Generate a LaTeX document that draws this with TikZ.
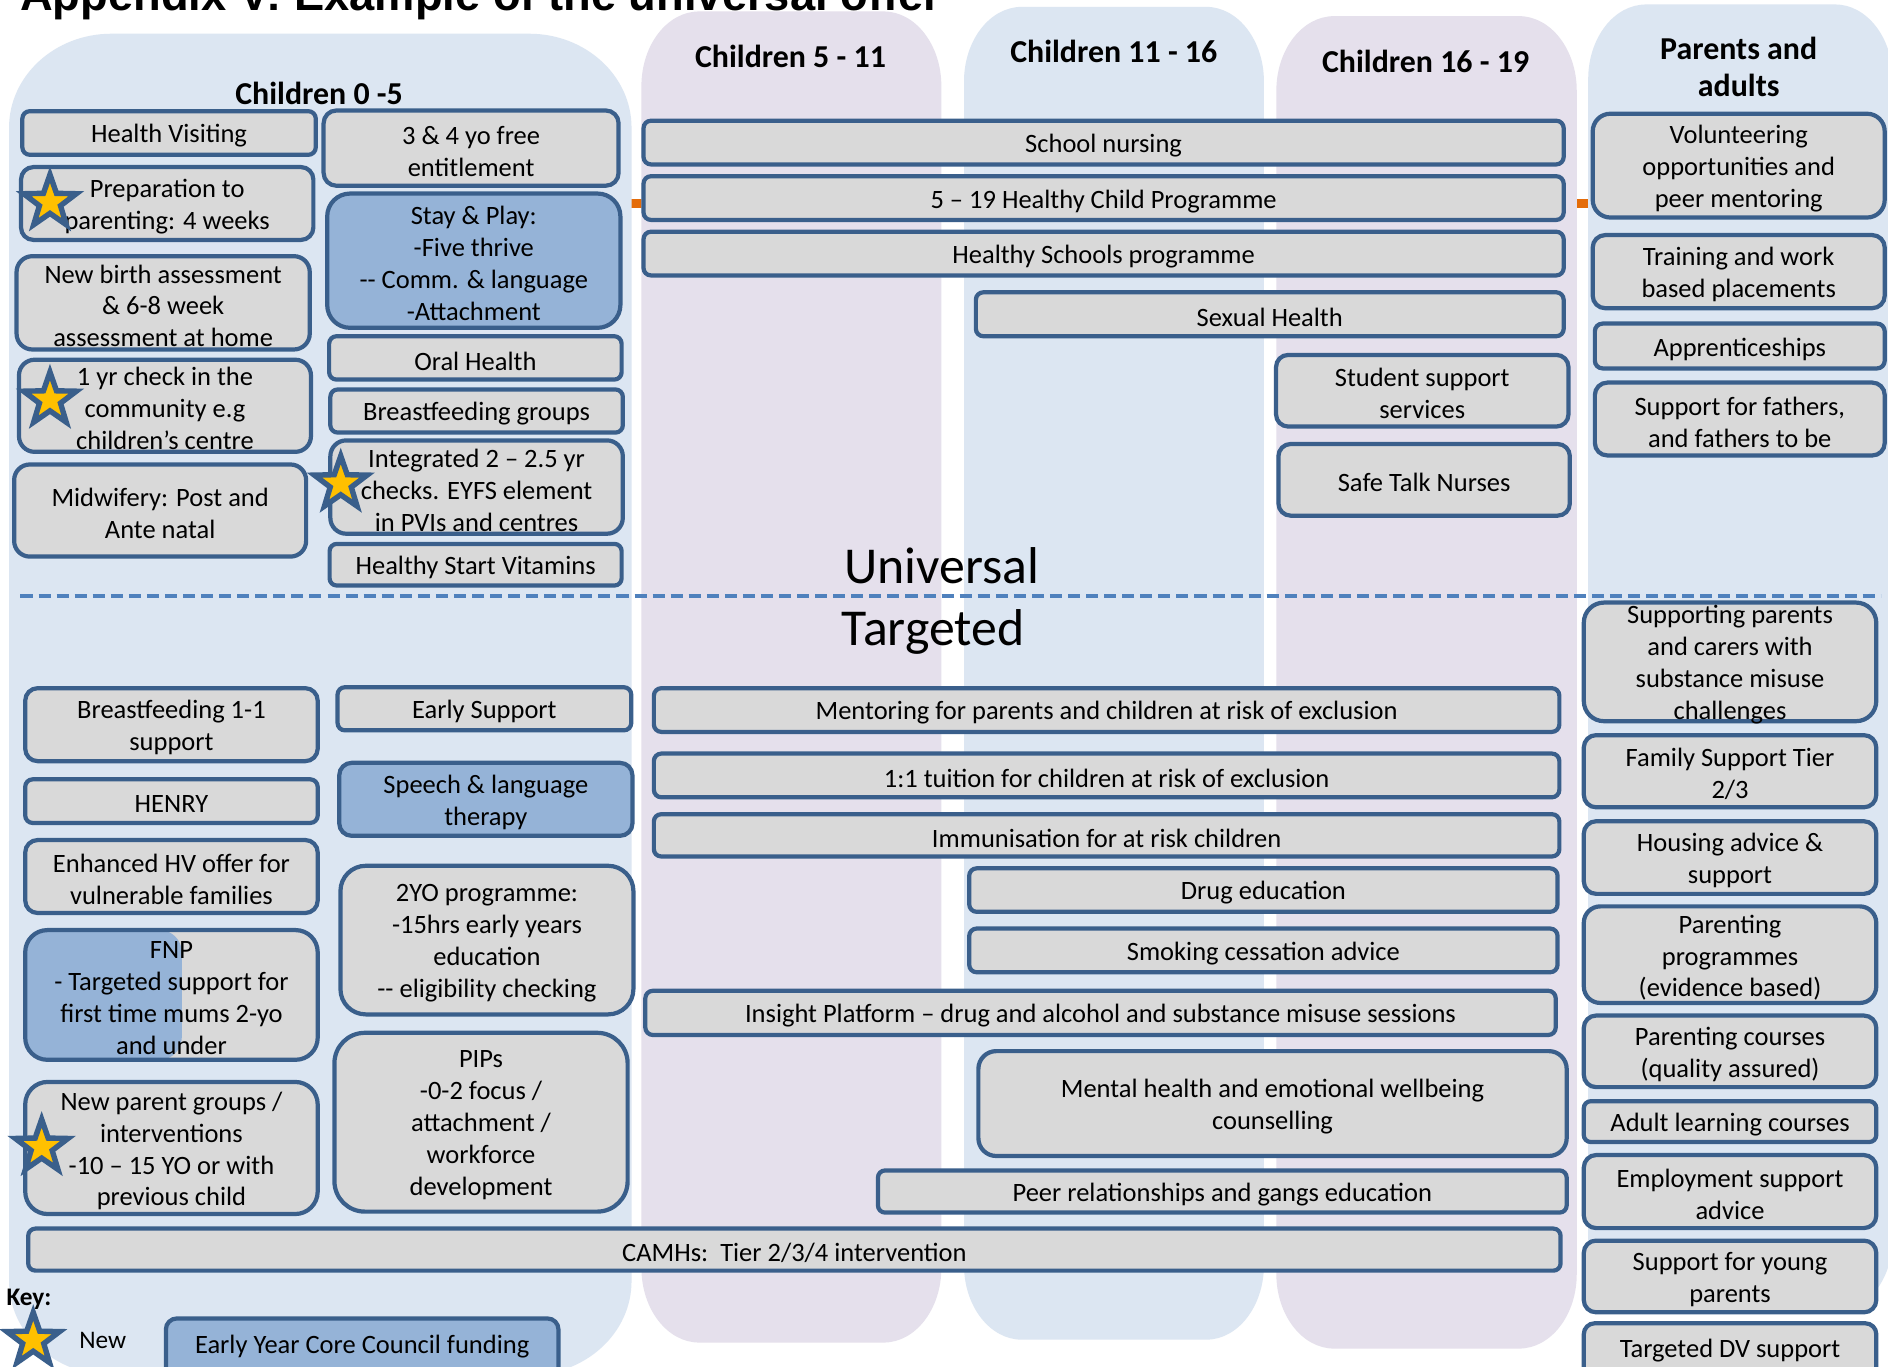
\documentclass[tikz,border=0pt]{standalone}
\usepackage{fontspec}
\setmainfont{Carlito}[Ligatures=TeXOff]
\newfontfamily\titlefont{Liberation Sans}[Ligatures=TeXOff]
\usetikzlibrary{shapes.geometric}
\definecolor{colblue}{HTML}{DCE6F2}
\definecolor{collav}{HTML}{E5E0EC}
\definecolor{boxfill}{HTML}{D9D9D9}
\definecolor{boxline}{HTML}{3A5F8B}
\definecolor{bluefill}{HTML}{95B3D7}
\definecolor{dashblue}{HTML}{4F81BD}
\definecolor{orangeln}{HTML}{E46C0A}
\definecolor{stargold}{HTML}{FFC000}
\tikzset{
  box/.style={draw=boxline, fill=boxfill, line width=3.5pt, inner sep=0pt, outer sep=0pt},
  bluebox/.style={fill=bluefill},
  txt/.style={font=\fontsize{22}{26.5}\selectfont, align=center, inner sep=0pt, yshift=-2.5pt},
  hdr/.style={font=\fontsize{26.5}{31.5}\selectfont\bfseries, align=center, inner sep=0pt, anchor=base},
  newstar/.style={star, star points=5, star point ratio=2.5, minimum size=46pt, inner sep=0pt, draw=boxline, fill=stargold, line width=4.5pt},
}
\newcommand{\bx}[7][]{%
  \pgfmathsetmacro\bxw{(#5)-(#3)-3.5}%
  \pgfmathsetmacro\bxh{(#6)-(#4)-3.5}%
  \pgfmathsetmacro\bxcx{((#3)+(#5))/2}%
  \pgfmathsetmacro\bxcy{((#4)+(#6))/2}%
  \pgfmathsetmacro\bxr{0.17*min(\bxw,\bxh)}%
  \node[box, minimum width=\bxw pt, minimum height=\bxh pt, rounded corners=\bxr pt, #1] (#2) at (\bxcx,\bxcy) {};%
  \node[txt] (#2-t) at (#2.center) {#7};}
\newcommand{\colbg}[7]{%
  \fill[#1] (#2,{#3+#7}) .. controls (#2,{#3+0.448*#7}) and ({#2+0.448*#6},#3) .. ({#2+#6},#3)
   -- ({#4-#6},#3) .. controls ({#4-0.448*#6},#3) and (#4,{#3+0.448*#7}) .. (#4,{#3+#7})
   -- (#4,{#5-#7}) .. controls (#4,{#5-0.448*#7}) and ({#4-0.448*#6},#5) .. ({#4-#6},#5)
   -- ({#2+#6},#5) .. controls ({#2+0.448*#6},#5) and (#2,{#5-0.448*#7}) .. (#2,{#5-#7}) -- cycle;}
\begin{document}
\begin{tikzpicture}[x=1pt,y=-1pt]
\useasboundingbox (0,0) rectangle (1568,1135);
\clip (0,0) rectangle (1568,1135);
\fill[white] (0,0) rectangle (1568,1135);
% orange line behind columns
\coordinate (orA) at (505,169);
\coordinate (orB) at (1330,169);
\draw[orangeln, line width=7pt] (orA) -- (orB);
% columns
\colbg{colblue}{7.5}{28}{524.5}{1142}{85}{78}
\colbg{collav}{532.7}{9.5}{781.8}{1115}{48}{62}
\colbg{colblue}{800.6}{5.7}{1049.7}{1112.6}{48}{62}
\colbg{collav}{1060}{13.4}{1309.5}{1120}{48}{62}
\colbg{colblue}{1319}{3.7}{1572}{1090}{48}{62}
% title
\node[font=\titlefont\bfseries\fontsize{37.6}{40}\selectfont, anchor=base west, inner sep=0pt] (title) at (16.6,8.5) {Appendix V: Example of the universal offer};
% headers
\node[hdr] (h05) at (265,87) {Children 0 -5};
\node[hdr] (h511) at (656.5,56) {Children 5 - 11};
\node[hdr] (h1116) at (925,52) {Children 11 - 16};
\node[hdr] (h1619) at (1184,60) {Children 16 - 19};
\node[hdr] (hpar) at (1444,80.5) {Parents and\\adults};
% dashed divider
\coordinate (dl) at (17,495);
\coordinate (dr) at (1562,495);
\draw[dashblue, line width=3.5pt, dash pattern=on 10pt off 5pt] (dl) -- (dr);
\node[font=\fontsize{43}{50}\selectfont, anchor=base, inner sep=0pt] (univ) at (782,484.5) {Universal};
\node[font=\fontsize{43}{50}\selectfont, anchor=base, inner sep=0pt] (targ) at (775,536.5) {Targeted};
% Children 0-5 universal
\bx{hv}{16.8}{90.6}{264}{130.3}{Health Visiting}
\bx{prep}{15.7}{137}{262}{201}{Preparation to\\parenting: 4 weeks}
\bx{nba}{12}{211}{259}{292}{New birth assessment\\\& 6-8 week\\assessment at home}
\bx{yr1}{14}{297}{260}{377}{1 yr check in the\\community e.g\\children’s centre}
\bx{mid}{10}{384}{256}{464}{Midwifery: Post and\\Ante natal}
\bx{f34}{267}{90}{515.5}{156}{3 \& 4 yo free\\entitlement}
\bx[bluebox]{stay}{270}{159}{517}{274}{Stay \& Play:\\-Five thrive\\-- Comm. \& language\\-Attachment}
\bx{oral}{271.6}{277.5}{518}{317}{Oral Health}
\bx{bfg}{272.6}{321.7}{519}{361}{Breastfeeding groups}
\bx{integ}{272.6}{364}{519}{445}{Integrated 2 – 2.5 yr\\checks. EYFS element\\in PVIs and centres}
\bx{hsv}{272}{450}{518}{488}{Healthy Start Vitamins}
% middle universal
\bx{sn}{532.7}{98.5}{1300.4}{138.3}{School nursing}
\bx{hcp}{532.7}{144.6}{1300.4}{184.4}{5 – 19 Healthy Child Programme}
\bx{hsp}{532.7}{190.7}{1300.4}{230.5}{Healthy Schools programme}
\bx{sex}{808.7}{241}{1300.4}{281}{Sexual Health}
\bx{ssup}{1058}{293}{1304.4}{356}{Student support\\services}
\bx{stn}{1060}{367}{1305.5}{430}{Safe Talk Nurses}
% parents universal
\bx{vol}{1321}{92.7}{1567}{182.4}{Volunteering\\opportunities and\\peer mentoring}
\bx{train}{1321}{193.5}{1567}{257.7}{Training and work\\based placements}
\bx{appr}{1322.8}{267}{1567}{307.7}{Apprenticeships}
\bx{fath}{1322.8}{316}{1567}{380}{Support for fathers,\\and fathers to be}
% Children 0-5 targeted
\bx{bf11}{19.2}{569.8}{265.6}{633.9}{Breastfeeding 1-1\\support}
\bx{henry}{19.2}{645.5}{265.6}{685.2}{HENRY}
\bx{ehv}{19.2}{695.9}{265.6}{760}{Enhanced HV offer for\\vulnerable families}
\bx[path picture={\fill[bluefill] (path picture bounding box.south west) rectangle ([xshift=130pt]path picture bounding box.north west);}]{fnp}{19.2}{770.7}{265.6}{881.9}{FNP\\- Targeted support for\\first time mums 2-yo\\and under}
\bx{npg}{19.2}{896.8}{265.6}{1010}{New parent groups /\\interventions\\-10 – 15 YO or with\\previous child}
\bx{es}{278.6}{569}{526}{608.3}{Early Support}
\bx[bluebox]{slt}{280}{631.8}{527}{695.9}{Speech \& language\\therapy}
\bx{yo2}{281}{717.3}{527.8}{844.2}{2YO programme:\\-15hrs early years\\education\\-- eligibility checking}
\bx{pips}{276}{856}{523}{1008}{PIPs\\-0-2 focus /\\attachment /\\workforce\\development}
% middle targeted
\bx{ment}{541.3}{569.8}{1296.8}{609.6}{Mentoring for parents and children at risk of exclusion}
\bx{tuit}{541.3}{624.1}{1296.8}{663.9}{1:1 tuition for children at risk of exclusion}
\bx{imm}{541.3}{674.5}{1296.8}{713}{Immunisation for at risk children}
\bx{drug}{803.2}{719.4}{1295.3}{759}{Drug education}
\bx{smok}{803.2}{769.4}{1295.3}{809.2}{Smoking cessation advice}
\bx{insi}{534.2}{821.1}{1293.8}{861.3}{Insight Platform – drug and alcohol and substance misuse sessions}
\bx{mh}{810.8}{871.2}{1302.9}{961.8}{Mental health and emotional wellbeing\\counselling}
\bx{peer}{727.4}{970.3}{1302.9}{1008.8}{Peer relationships and gangs education}
\bx{camhs}{21.7}{1018.6}{1297.8}{1057}{CAMHs:\ \ Tier 2/3/4 intervention}
% parents targeted
\bx{sup}{1313.6}{498.7}{1560}{600.7}{Supporting parents\\and carers with\\substance misuse\\challenges}
\bx{fam}{1313.6}{608.8}{1560}{672.2}{Family Support Tier\\2/3}
\bx{hous}{1313.6}{680.3}{1560}{744.1}{Housing advice \&\\support}
\bx{pprog}{1313.6}{751}{1560}{834.7}{Parenting\\programmes\\(evidence based)}
\bx{pcour}{1313.6}{841.7}{1560}{904.6}{Parenting courses\\(quality assured)}
\bx{adult}{1313.6}{912.8}{1560}{950.2}{Adult learning courses}
\bx{empl}{1313.6}{957.5}{1560}{1021.7}{Employment support\\advice}
\bx{young}{1313.6}{1028.6}{1560}{1091.6}{Support for young\\parents}
\node[box, minimum width=242.9pt, minimum height=60pt, rounded corners=9pt] (dv) at (1436.8,1129) {};
\node[txt] (dv-t) at (1436.8,1119) {Targeted DV support};
% key
\node[font=\fontsize{21}{25}\selectfont\bfseries, anchor=base west, inner sep=0pt] (key) at (5.2,1084) {Key:};
\node[font=\fontsize{21}{25}\selectfont, anchor=base west, inner sep=0pt] (newlbl) at (65.7,1120) {New};
\node[box, bluebox, minimum width=326pt, minimum height=60pt, rounded corners=9pt] (eycc) at (300.8,1125) {};
\node[txt] (eycc-t) at (300.8,1116) {Early Year Core Council funding};
% stars
\node[newstar] (st1) at (41.5,168) {};
\node[newstar] (st2) at (41.5,332) {};
\node[newstar] (st3) at (283,401.7) {};
\node[newstar] (st4) at (34.6,952.6) {};
\node[newstar] (stkey) at (27.6,1113) {};
\end{tikzpicture}
\end{document}
